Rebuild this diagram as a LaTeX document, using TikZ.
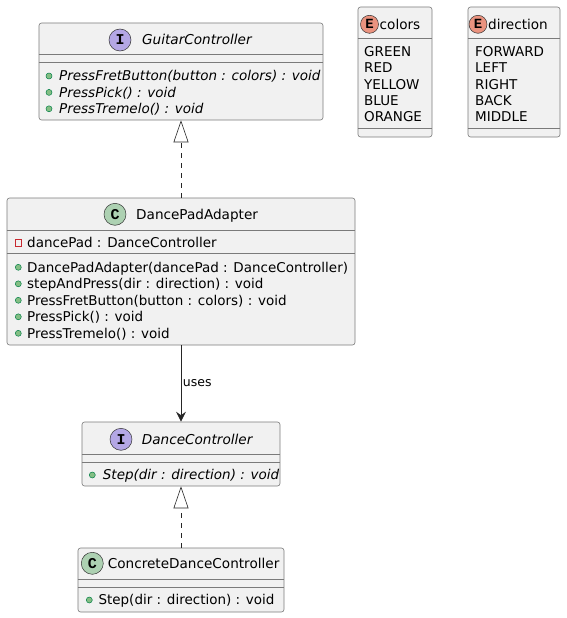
\documentclass[tikz,border=0pt]{standalone}
\usepackage{fontspec}
\setmainfont{DejaVu Sans}
\newfontfamily\iconfont{Liberation Mono}
\usetikzlibrary{arrows.meta}

\definecolor{boxfill}{HTML}{F1F1F1}
\definecolor{boxline}{HTML}{7A7A7A}
\definecolor{ifacecol}{HTML}{B4A7E5}
\definecolor{classcol}{HTML}{ADD1B2}
\definecolor{enumcol}{HTML}{EB937F}
\definecolor{pubfill}{HTML}{84BE84}
\definecolor{publine}{HTML}{038048}
\definecolor{privline}{HTML}{C82930}

% line between two compartments, #2 pt below the top of box #1
\newcommand\compline[2]{\draw[boxline, line width=0.6pt] ([yshift=-#2pt]#1.north west) -- ([yshift=-#2pt]#1.north east);}

\begin{document}
\begin{tikzpicture}[x=1pt, y=-1pt,
		umlbox/.style={draw=boxline, fill=boxfill, line width=0.6pt, rounded corners=2.5pt, inner sep=0pt},
		title/.style={anchor=west, inner sep=0pt, text height=9.9pt, text depth=0pt, font=\fontsize{13.6}{16}\selectfont},
		member/.style={anchor=west, inner sep=0pt, text height=9.8pt, text depth=0pt, font=\fontsize{13.5}{16}\selectfont},
		icon/.style={circle, draw=black!80, line width=0.5pt, minimum size=22pt, inner sep=0pt, font=\iconfont\bfseries\fontsize{15}{15}\selectfont},
		enumicon/.style={circle, draw=black!80, line width=0.5pt, minimum size=18pt, inner sep=0pt, font=\iconfont\bfseries\fontsize{14}{14}\selectfont},
		pub/.style={circle, draw=publine, fill=pubfill, line width=0.5pt, minimum size=6pt, inner sep=0pt},
		priv/.style={rectangle, draw=privline, line width=0.7pt, minimum size=6.5pt, inner sep=0pt},
		realize/.style={draw=black!85, line width=0.6pt, dash pattern=on 5pt off 5pt, -{Triangle[open, length=22pt, width=15pt]}},
		uses/.style={draw=black!85, line width=0.8pt, -{Stealth[length=10pt, width=10pt, inset=3.5pt]}}]
	\useasboundingbox (0,0) rectangle (566,618);

	% boxes
	\node[umlbox, minimum width=284pt, minimum height=97pt] (guitar) at (181,71.5) {};
	\node[umlbox, minimum width=348pt, minimum height=147pt] (adapter) at (181,271.5) {};
	\node[umlbox, minimum width=198pt, minimum height=64pt] (dance) at (181,454) {};
	\node[umlbox, minimum width=206pt, minimum height=64pt] (concrete) at (181,580) {};
	\node[umlbox, minimum width=74pt, minimum height=130pt] (colors) at (395,72) {};
	\node[umlbox, minimum width=92pt, minimum height=130pt] (direction) at (514,72) {};

	\compline{guitar}{32} \compline{guitar}{40}
	\compline{adapter}{32.5} \compline{adapter}{56}
	\compline{dance}{33} \compline{dance}{41}
	\compline{concrete}{32} \compline{concrete}{40}
	\compline{colors}{32} \compline{colors}{122}
	\compline{direction}{32} \compline{direction}{122}

	% GuitarController
	\node[icon, fill=ifacecol] (guitar-icon) at (120,40) {I};
	\node[title, font=\fontsize{13.6}{16}\selectfont\itshape] (guitar-name) at (142,40) {GuitarController};
	\foreach \meth [count=\k from 0] in {{PressFretButton(button : colors) : void}, {PressPick() : void}, {PressTremelo() : void}} {
		\node[pub] (guitar-dot\k) at (49,76+16.4*\k) {};
		\node[member, font=\fontsize{13.5}{16}\selectfont\itshape] (guitar-m\k) at (59,76+16.4*\k) {\meth};
	}

	% DancePadAdapter
	\node[icon, fill=classcol] (adapter-icon) at (115,214.3) {C};
	\node[title] (adapter-name) at (136,214.3) {DancePadAdapter};
	\node[priv] (adapter-sq) at (18.3,242.7) {};
	\node[member] (adapter-a0) at (27,242.7) {dancePad : DanceController};
	\foreach \meth [count=\k from 0] in {{DancePadAdapter(dancePad : DanceController)}, {stepAndPress(dir : direction) : void}, {PressFretButton(button : colors) : void}, {PressPick() : void}, {PressTremelo() : void}} {
		\node[pub] (adapter-dot\k) at (18.3,267.3+16.5*\k) {};
		\node[member] (adapter-m\k) at (27,267.3+16.5*\k) {\meth};
	}

	% DanceController
	\node[icon, fill=ifacecol] (dance-icon) at (121,439.3) {I};
	\node[title, font=\fontsize{13.6}{16}\selectfont\itshape] (dance-name) at (141.7,439.3) {DanceController};
	\node[pub] (dance-dot) at (92.3,475) {};
	\node[member, font=\fontsize{13.5}{16}\selectfont\itshape] (dance-m0) at (102.7,475) {Step(dir : direction) : void};

	% ConcreteDanceController
	\node[icon, fill=classcol] (concrete-icon) at (92.3,563.3) {C};
	\node[title] (concrete-name) at (107.7,563.3) {ConcreteDanceController};
	\node[pub] (concrete-dot) at (89.3,600) {};
	\node[member] (concrete-m0) at (98.3,600) {Step(dir : direction) : void};

	% enums
	\node[enumicon, fill=enumcol] (colors-icon) at (369.5,24.3) {E};
	\node[title] (colors-name) at (379.5,24.3) {colors};
	\foreach \val [count=\k from 0] in {GREEN,RED,YELLOW,BLUE,ORANGE}
		\node[member] (colors-v\k) at (364,51.7+16.3*\k) {\val};
	\node[enumicon, fill=enumcol] (direction-icon) at (478,24.3) {E};
	\node[title] (direction-name) at (488,24.3) {direction};
	\foreach \val [count=\k from 0] in {FORWARD,LEFT,RIGHT,BACK,MIDDLE}
		\node[member] (direction-v\k) at (475,51.7+16.3*\k) {\val};

	% relations
	\draw[realize] (adapter.north) -- (guitar.south);
	\draw[uses] (adapter.south) -- node[right, inner sep=1.5pt, font=\fontsize{12.5}{14}\selectfont] (uses-label) {uses} (dance.north);
	\draw[realize] (concrete.north) -- (dance.south);
\end{tikzpicture}
\end{document}
